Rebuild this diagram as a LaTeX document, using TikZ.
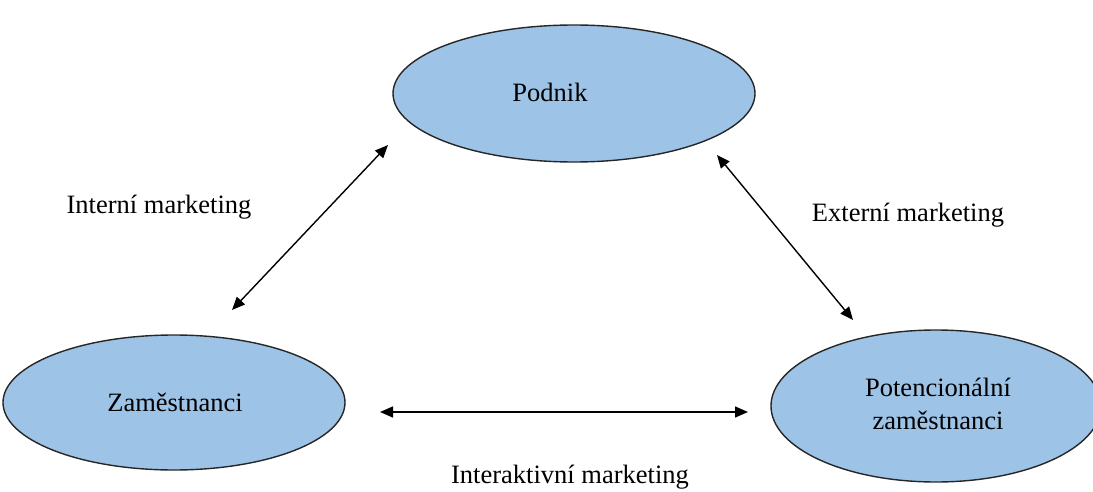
\documentclass[tikz,border=0pt]{standalone}
\usepackage{fontspec}
\setmainfont{Liberation Serif}
\usetikzlibrary{arrows.meta,shapes.geometric}
\definecolor{ellfill}{RGB}{157,195,230}
\begin{document}
\begin{tikzpicture}[x=1pt,y=-1pt,
  ell/.style={draw=black!85,line width=1.4pt,fill=ellfill,ellipse,inner sep=0pt},
  lbl/.style={font=\fontsize{26.5}{31}\selectfont,align=center},
  conn/.style={line width=1.4pt,{Triangle[length=13pt,width=11pt]}-{Triangle[length=13pt,width=11pt]}}]
\useasboundingbox (0,0) rectangle (1093,492);
\node[ell,minimum width=362pt,minimum height=137pt] (podnik) at (574,93.5) {};
\node[ell,minimum width=342pt,minimum height=135pt] (zam) at (174,402.5) {};
\node[ell,minimum width=330pt,minimum height=152pt] (pot) at (936,406) {};
\node[lbl] (tpodnik) at (550,92) {Podnik};
\node[lbl] (tzam) at (175,402) {Zaměstnanci};
\node[lbl] (tpot) at (938,404) {Potencionální\\[2pt]zaměstnanci};
\node[lbl] (lint) at (159,207) {Interní marketing};
\node[lbl] (lext) at (908,215) {Externí marketing};
\node[lbl] (linter) at (570,477) {Interaktivní marketing};
\coordinate (a1) at (388,145);
\coordinate (a2) at (232,310);
\coordinate (b1) at (717,155);
\coordinate (b2) at (853,320);
\coordinate (c1) at (380,412);
\coordinate (c2) at (748,412);
\draw[conn] (a1) -- (a2);
\draw[conn] (b1) -- (b2);
\draw[conn] (c1) -- (c2);
\end{tikzpicture}
\end{document}
